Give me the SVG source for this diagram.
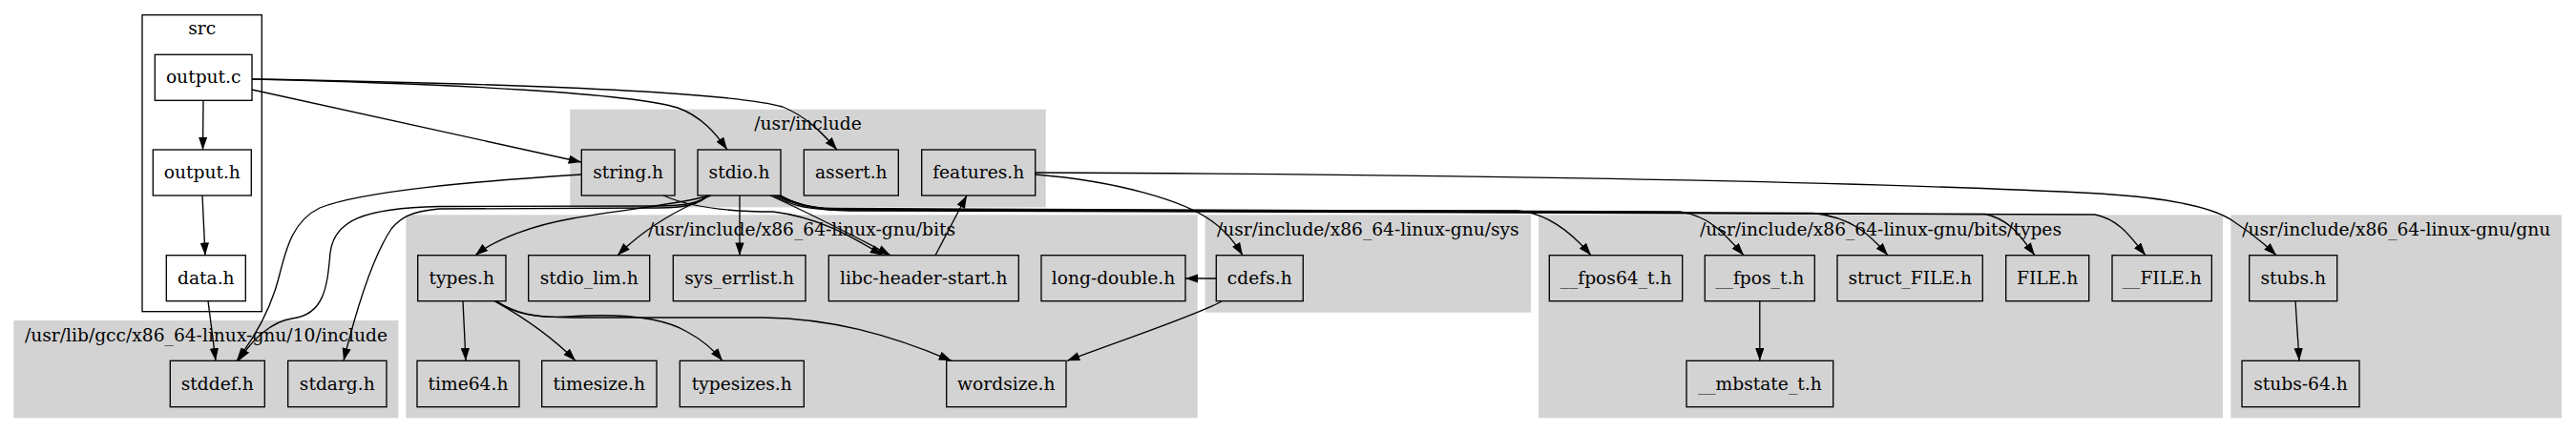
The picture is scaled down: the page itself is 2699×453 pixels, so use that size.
<svg xmlns="http://www.w3.org/2000/svg" width="2699" height="453" viewBox="0 0 2699 453">
<style>
text{font-family:"DejaVu Serif","Liberation Serif",serif;font-size:18.67px;text-anchor:middle;fill:#000}
.cl{fill:#d3d3d3;stroke:#d3d3d3;stroke-width:1.33}
.nd rect{fill:none;stroke:#000;stroke-width:1.33}
#edges path{fill:none;stroke:#000;stroke-width:1.33;marker-end:url(#a)}
</style>
<defs>
<marker id="a" markerWidth="14" markerHeight="10" refX="13.3" refY="4.67" orient="auto" markerUnits="userSpaceOnUse"><path d="M0,0 L13.3,4.67 L0,9.33 z" fill="#000"/></marker>
</defs>
<rect width="2699" height="453" fill="#fff"/>
<g id="clusters">
<g id="cluster_src"><rect x="149" y="15.7" width="125.3" height="311" fill="#fff" stroke="#000" stroke-width="1.33"/><text x="211.7" y="36">src</text></g>
<g id="cluster_gcc"><rect class="cl" x="15" y="336.7" width="401.7" height="101"/><text x="216" y="357.7">/usr/lib/gcc/x86_64-linux-gnu/10/include</text></g>
<g id="cluster_usr_include"><rect class="cl" x="598" y="115.3" width="497" height="101.4"/><text x="846.5" y="135.7">/usr/include</text></g>
<g id="cluster_bits"><rect class="cl" x="426" y="226" width="828" height="211.7"/><text x="840" y="246.7">/usr/include/x86_64-linux-gnu/bits</text></g>
<g id="cluster_sys"><rect class="cl" x="1263.3" y="226" width="340" height="101"/><text x="1433.3" y="246.7">/usr/include/x86_64-linux-gnu/sys</text></g>
<g id="cluster_types"><rect class="cl" x="1612.7" y="226" width="715.6" height="211.7"/><text x="1970.5" y="246.7">/usr/include/x86_64-linux-gnu/bits/types</text></g>
<g id="cluster_gnu"><rect class="cl" x="2338" y="226" width="345.3" height="211.7"/><text x="2510.7" y="246.7">/usr/include/x86_64-linux-gnu/gnu</text></g>
</g>
<g id="edges">
<path d="M213,105.3 L212.5,157"/>
<path d="M212,205 L215,267.7"/>
<path d="M218,315.7 L226,378.3"/>
<path d="M264,94 L609,170"/>
<path d="M264,83 C480,88 660,98 710,113 C735,122 750,140 762,157"/>
<path d="M264,83 C500,87 760,95 820,112 C845,122 862,140 877,157"/>
<path d="M609,183 C500,190 380,200 335,218 C300,235 298,275 288,305 C278,335 262,360 248,378.3"/>
<path d="M695,205 C720,216 760,222 810,222 C860,228 895,250 925,267.7"/>
<path d="M743,205 C715,214 650,220 600,229 C560,236 520,250 498,267.7"/>
<path d="M745,205 C715,218 680,235 647,267.7"/>
<path d="M775,205 L775,267.7"/>
<path d="M807,205 C840,220 890,245 933,267.7"/>
<path d="M741,205 C735,212 720,216 690,216 L460,216.5 C380,218 350,232 346,265 C343,300 340,330 306,334 C285,337 265,355 250,378.3"/>
<path d="M741,205 C735,213 720,218 690,218 L460,219 C430,222 420,228 410,240 C390,270 372,330 360,378.3"/>
<path d="M810,205 C825,213 840,219 870,220 L1590,221 C1620,223 1645,242 1667,267.7"/>
<path d="M812,205 C828,213 845,218 875,218.5 L1760,222 C1790,226 1805,243 1827,267.7"/>
<path d="M814,205 C830,213 848,219 880,219.5 L1900,223.5 C1940,228 1958,245 1978,267.7"/>
<path d="M816,205 C832,213 850,219 885,220 L2080,224.5 C2105,230 2115,245 2132,267.7"/>
<path d="M818,205 C834,214 852,220 890,221 L2195,225 C2220,230 2232,248 2248,267.7"/>
<path d="M980,267.7 L1013,205"/>
<path d="M1085,183 C1170,190 1240,210 1270,232 C1285,243 1295,256 1302,267.7"/>
<path d="M1085,181 C1500,183 1900,188 2200,203 C2280,208 2320,218 2340,232 C2360,245 2372,255 2385,267.7"/>
<path d="M1274.3,292 L1242,292"/>
<path d="M1280,316 C1255,330 1180,355 1118,378.3"/>
<path d="M485,315.7 L488,378.3"/>
<path d="M518,315.7 C540,328 575,350 603,378.3"/>
<path d="M520,315.7 C540,328 560,334 595,332 C640,329 690,330 720,348 C735,356 747,366 757,378.3"/>
<path d="M520,315.7 C540,330 560,333 600,333 L800,333 C870,334 930,350 997,378.3"/>
<path d="M1843.8,315.7 L1843.8,378.3"/>
<path d="M2405,315.7 L2409,378.3"/>
</g>
<g id="nodes">
<g id="output_c" class="nd"><rect x="162.3" y="57.3" width="101.7" height="48"/><text x="213.2" y="87.3">output.c</text></g>
<g id="output_h" class="nd"><rect x="160.3" y="157" width="103" height="48"/><text x="211.8" y="187">output.h</text></g>
<g id="data_h" class="nd"><rect x="174.3" y="267.7" width="83" height="48"/><text x="215.8" y="297.7">data.h</text></g>
<g id="stddef_h" class="nd"><rect x="178.3" y="378.3" width="99" height="48.4"/><text x="227.8" y="408.5">stddef.h</text></g>
<g id="stdarg_h" class="nd"><rect x="301.7" y="378.3" width="103.3" height="48.4"/><text x="353.3" y="408.5">stdarg.h</text></g>
<g id="string_h" class="nd"><rect x="609.3" y="157" width="97.7" height="48"/><text x="658.2" y="187">string.h</text></g>
<g id="stdio_h" class="nd"><rect x="731" y="157" width="87" height="48"/><text x="774.5" y="187">stdio.h</text></g>
<g id="assert_h" class="nd"><rect x="842.3" y="157" width="99" height="48"/><text x="891.8" y="187">assert.h</text></g>
<g id="features_h" class="nd"><rect x="965.7" y="157" width="119" height="48"/><text x="1025.2" y="187">features.h</text></g>
<g id="types_h" class="nd"><rect x="437.7" y="267.7" width="92.3" height="48"/><text x="483.8" y="297.7">types.h</text></g>
<g id="stdio_lim_h" class="nd"><rect x="553.7" y="267.7" width="127" height="48"/><text x="617.2" y="297.7">stdio_lim.h</text></g>
<g id="sys_errlist_h" class="nd"><rect x="705.3" y="267.7" width="138.7" height="48"/><text x="774.7" y="297.7">sys_errlist.h</text></g>
<g id="libc_header_start_h" class="nd"><rect x="868.3" y="267.7" width="199" height="48"/><text x="967.8" y="297.7">libc-header-start.h</text></g>
<g id="long_double_h" class="nd"><rect x="1091" y="267.7" width="151" height="48"/><text x="1166.5" y="297.7">long-double.h</text></g>
<g id="time64_h" class="nd"><rect x="437" y="378.3" width="107" height="48.4"/><text x="490.5" y="408.5">time64.h</text></g>
<g id="timesize_h" class="nd"><rect x="567.7" y="378.3" width="120.3" height="48.4"/><text x="627.8" y="408.5">timesize.h</text></g>
<g id="typesizes_h" class="nd"><rect x="712.3" y="378.3" width="130" height="48.4"/><text x="777.3" y="408.5">typesizes.h</text></g>
<g id="wordsize_h" class="nd"><rect x="991.7" y="378.3" width="125.3" height="48.4"/><text x="1054.3" y="408.5">wordsize.h</text></g>
<g id="cdefs_h" class="nd"><rect x="1274.3" y="267.7" width="91" height="48"/><text x="1319.8" y="297.7">cdefs.h</text></g>
<g id="fpos64_t_h" class="nd"><rect x="1623.3" y="267.7" width="139.4" height="48"/><text x="1693" y="297.7">__fpos64_t.h</text></g>
<g id="fpos_t_h" class="nd"><rect x="1786.3" y="267.7" width="115" height="48"/><text x="1843.8" y="297.7">__fpos_t.h</text></g>
<g id="struct_FILE_h" class="nd"><rect x="1925" y="267.7" width="152.3" height="48"/><text x="2001.2" y="297.7">struct_FILE.h</text></g>
<g id="FILE_h" class="nd"><rect x="2101.7" y="267.7" width="87" height="48"/><text x="2145.2" y="297.7">FILE.h</text></g>
<g id="__FILE_h" class="nd"><rect x="2213" y="267.7" width="104.3" height="48"/><text x="2265.2" y="297.7">__FILE.h</text></g>
<g id="mbstate_t_h" class="nd"><rect x="1767" y="378.3" width="153.7" height="48.4"/><text x="1843.8" y="408.5">__mbstate_t.h</text></g>
<g id="stubs_h" class="nd"><rect x="2356.7" y="267.7" width="92" height="48"/><text x="2402.7" y="297.7">stubs.h</text></g>
<g id="stubs_64_h" class="nd"><rect x="2349" y="378.3" width="123" height="48.4"/><text x="2410.5" y="408.5">stubs-64.h</text></g>
</g>
</svg>
